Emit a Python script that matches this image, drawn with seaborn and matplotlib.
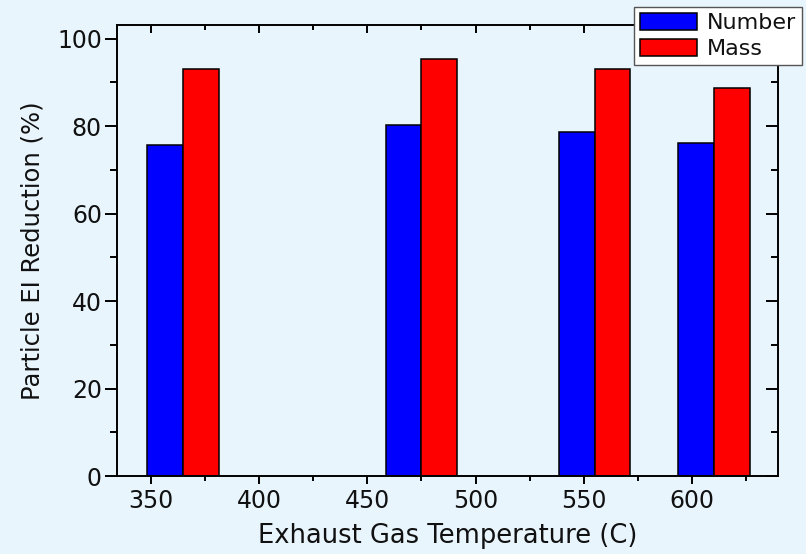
import pandas as pd
import matplotlib
matplotlib.use("Agg")
import matplotlib.pyplot as plt
from matplotlib.ticker import MultipleLocator
import seaborn as sns

temperatures = [365, 475, 555, 610]
number_reduction = [75.7, 80.2, 78.6, 76.2]
mass_reduction = [93.0, 95.3, 93.0, 88.7]
series_names = ["Number", "Mass"]
colors = ["#0000FF", "#FF0000"]

df = pd.DataFrame({
    "temp": temperatures * 2,
    "value": number_reduction + mass_reduction,
    "serie": [series_names[0]] * 4 + [series_names[1]] * 4,
})

bg = "#E8F5FD"
sns.set_theme(style="ticks")
plt.rcParams["font.family"] = ["DejaVu Sans"]

fig = plt.figure(figsize=(8.06, 5.54), dpi=100, facecolor=bg)
ax = fig.add_axes([0.1455, 0.1403, 0.8198, 0.8139], facecolor=bg)

sns.barplot(data=df, x="temp", y="value", hue="serie", native_scale=True,
            palette=colors, width=0.6, edgecolor="black", linewidth=1.1,
            saturation=1, ax=ax, legend=True)

ax.set_xlim(334.6, 639.6)
ax.set_ylim(0, 103)
ax.xaxis.set_major_locator(MultipleLocator(50))
ax.xaxis.set_minor_locator(MultipleLocator(25))
ax.yaxis.set_major_locator(MultipleLocator(20))
ax.yaxis.set_minor_locator(MultipleLocator(10))

for s in ax.spines.values():
    s.set_visible(True)
    s.set_color("black")
    s.set_linewidth(1.4)

ax.tick_params(top=True, right=True, which="both", direction="out",
               color="black", width=1.4)
ax.tick_params(axis="x", which="major", length=5.5, labelsize=17,
               labelcolor="#111111", pad=4)
ax.tick_params(axis="x", which="minor", length=3.5)
ax.tick_params(axis="y", which="major", length=9, labelsize=17,
               labelcolor="#111111", pad=2)
ax.tick_params(axis="y", which="minor", length=5)
# ticks at top and right point inwards
for t in ax.xaxis.get_major_ticks() + ax.xaxis.get_minor_ticks():
    t.tick2line.set_marker(3)
for t in ax.yaxis.get_major_ticks() + ax.yaxis.get_minor_ticks():
    t.tick2line.set_marker(0)

ax.set_xlabel("Exhaust Gas Temperature (C)", fontsize=18.5, color="#111111", labelpad=7)
ax.set_ylabel("Particle EI Reduction (%)", fontsize=17.5, color="#111111", labelpad=9)

leg = ax.legend(loc="upper left", bbox_to_anchor=(634 / 806, 1 - 7 / 554),
                bbox_transform=fig.transFigure, fontsize=16, frameon=True,
                fancybox=False, edgecolor="#555555", framealpha=1,
                handlelength=2.55, handleheight=0.8, handletextpad=0.45,
                labelspacing=0.25, borderpad=0.28, borderaxespad=0,
                labelcolor="#111111")
leg.get_frame().set_facecolor("white")
leg.get_frame().set_linewidth(1)

fig.savefig("out.png", dpi=100, facecolor=bg)
